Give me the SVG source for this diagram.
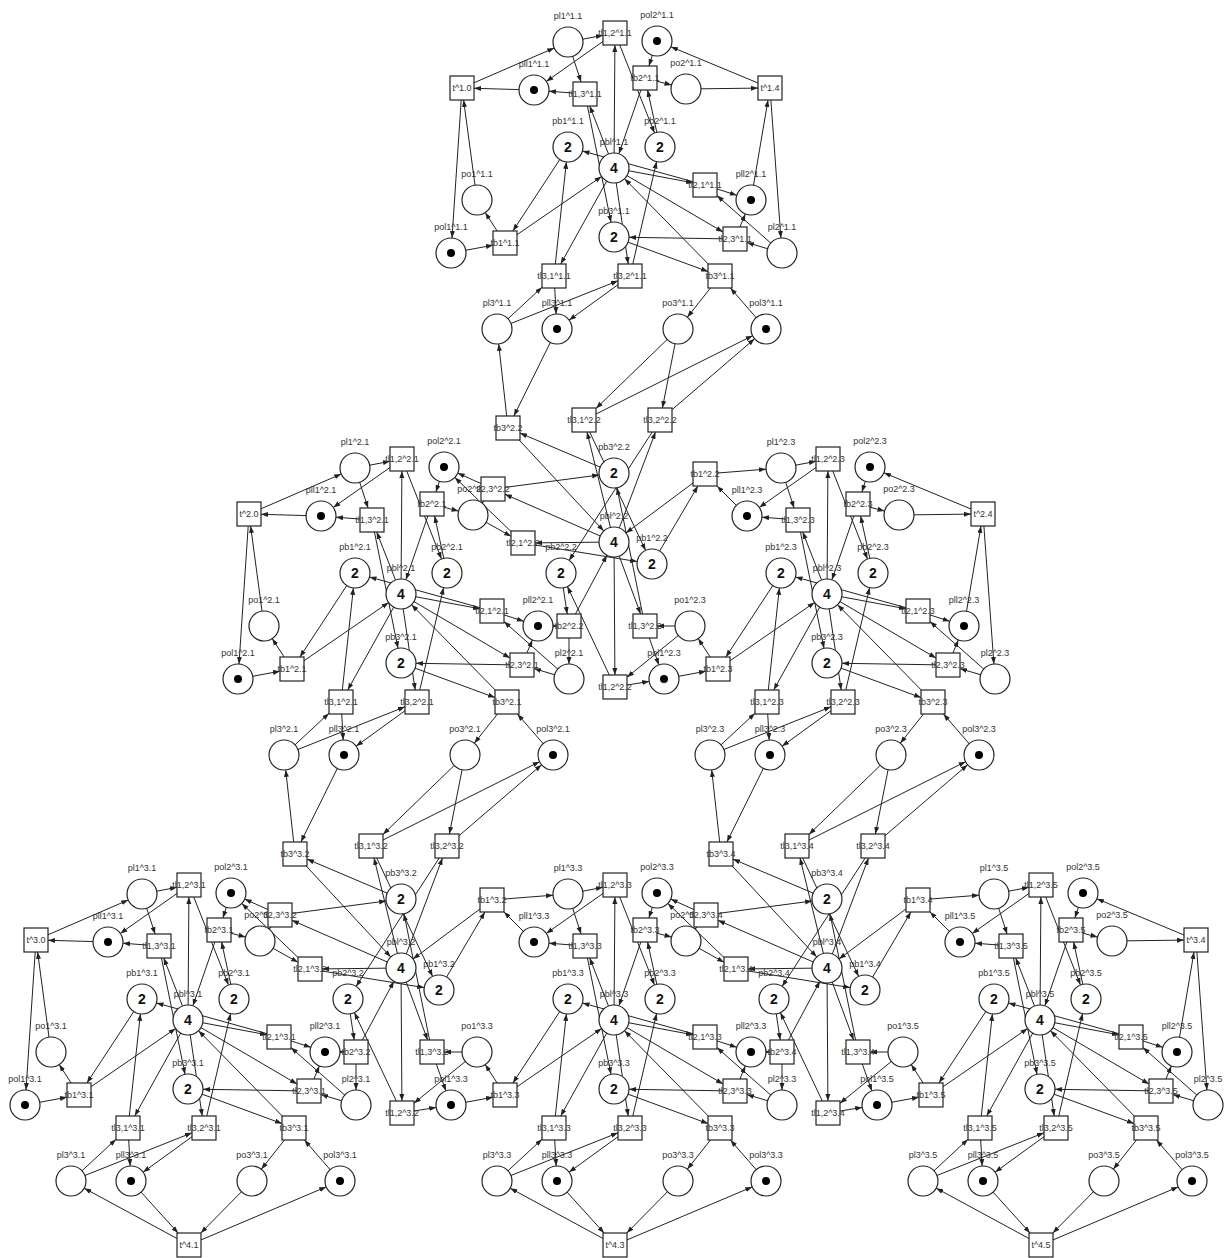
<svg xmlns="http://www.w3.org/2000/svg" width="1225" height="1258" viewBox="0 0 1225 1258">
<style>
.P circle{fill:#fff;stroke:#222;stroke-width:1.2}
.P circle.k{fill:#000;stroke:none}
.T rect{fill:#fff;stroke:#222;stroke-width:1.2}
text{font-family:"Liberation Sans",Arial,sans-serif;font-size:9px;fill:#333;text-anchor:middle}
text.n{font-size:14px;font-weight:bold;fill:#111}
</style>
<defs>
<marker id="a" markerUnits="userSpaceOnUse" markerWidth="8" markerHeight="6" refX="7" refY="3" orient="auto"><path d="M0,0.5L7,3L0,5.5z" fill="#222"/></marker>
<g id="cellE" fill="none" stroke="#222" stroke-width="1" marker-end="url(#a)">
<path d="M568,42L603,35.3"/>
<path d="M615,33L546.3,81.4"/>
<path d="M614,168L614.9,45"/>
<path d="M615,33L654.5,133"/>
<path d="M568,42L581.1,82"/>
<path d="M585,94L549,91.2"/>
<path d="M614,168L589.7,106"/>
<path d="M585,94L611,222.3"/>
<path d="M782,253L717,195.6"/>
<path d="M705,185L736.7,195.3"/>
<path d="M614,168L693,182.8"/>
<path d="M705,185L582.5,151"/>
<path d="M782,253L747,242.6"/>
<path d="M735,239L745.3,213.9"/>
<path d="M614,168L723,232"/>
<path d="M735,239L629,237.3"/>
<path d="M497,329L542,287.2"/>
<path d="M554,276L556.2,314"/>
<path d="M614,168L560.7,264"/>
<path d="M554,276L566.4,161.9"/>
<path d="M497,329L618,280.8"/>
<path d="M630,276L569.1,320.2"/>
<path d="M614,168L628.2,264"/>
<path d="M630,276L656.6,161.6"/>
<path d="M568,147L512.9,231"/>
<path d="M505,243L485.2,212.6"/>
<path d="M451,253L493,245.2"/>
<path d="M505,243L601.6,176.5"/>
<path d="M660,147L647.6,90"/>
<path d="M645,78L671.5,85.1"/>
<path d="M657,41L648.9,66"/>
<path d="M645,78L618.9,153.8"/>
<path d="M614,237L708,271.6"/>
<path d="M720,276L687.3,317.2"/>
<path d="M766,329L730.4,288"/>
<path d="M720,276L624.5,178.7"/>
</g>
<g id="envL" fill="none" stroke="#222" stroke-width="1" marker-end="url(#a)">
<path d="M462,88L554.2,48"/>
<path d="M534,90L474,88.3"/>
<path d="M477,200L463.6,100"/>
<path d="M462,88L452,238"/>
</g>
<g id="envR" fill="none" stroke="#222" stroke-width="1" marker-end="url(#a)">
<path d="M686,89L758,88.1"/>
<path d="M770,88L670.9,46.8"/>
<path d="M751,200L768,100"/>
<path d="M770,88L780.9,238"/>
</g>
<g id="envB" fill="none" stroke="#222" stroke-width="1" marker-end="url(#a)">
<path d="M615,393L510.2,336.2"/>
<path d="M557,329L604.1,381"/>
<path d="M678,329L626.8,381"/>
<path d="M615,393L752.2,334.9"/>
</g>
<g id="linkE" fill="none" stroke="#222" stroke-width="1" marker-end="url(#a)">
<path d="M614,473L520,433.1"/>
<path d="M508,428L498.7,343.9"/>
<path d="M557,329L513.9,416"/>
<path d="M508,428L603.8,531"/>
<path d="M678,329L596,408.4"/>
<path d="M584,420L752.6,335.7"/>
<path d="M614,542L587,432"/>
<path d="M584,420L645.6,550.4"/>
<path d="M678,329L662.4,408"/>
<path d="M660,420L754.6,338.8"/>
<path d="M614,542L655.5,432"/>
<path d="M660,420L569.1,560.4"/>
<path d="M652,564L697.9,486"/>
<path d="M705,474L766,469.2"/>
<path d="M747,516L717,486"/>
<path d="M705,474L626,533"/>
<path d="M690,626L627,677.2"/>
<path d="M615,687L649.2,681.4"/>
<path d="M614,542L614.9,675"/>
<path d="M615,687L567.4,586.6"/>
<path d="M690,626L657,626"/>
<path d="M645,626L658.9,664.9"/>
<path d="M614,542L640.6,614"/>
<path d="M645,626L617,487.7"/>
<path d="M561,573L567.2,614"/>
<path d="M569,626L569,664"/>
<path d="M538,626L557,626"/>
<path d="M569,626L606.9,555.2"/>
<path d="M473,515L511,536.3"/>
<path d="M523,543L454.8,477.4"/>
<path d="M614,542L535,542.9"/>
<path d="M523,543L637.2,561.6"/>
<path d="M473,515L483.8,501"/>
<path d="M493,489L457.7,473.1"/>
<path d="M614,542L505,494.3"/>
<path d="M493,489L599.1,475"/>
</g>
</defs>
<rect width="1225" height="1258" fill="#fff"/>
<g id="connectors">
<use href="#cellE" x="0" y="0"/>
<use href="#cellE" x="-213" y="426"/>
<use href="#cellE" x="213" y="426"/>
<use href="#cellE" x="-426" y="852"/>
<use href="#cellE" x="0" y="852"/>
<use href="#cellE" x="426" y="852"/>
<use href="#linkE" x="0" y="0"/>
<use href="#linkE" x="-213" y="426"/>
<use href="#linkE" x="213" y="426"/>
<use href="#envL" x="0" y="0"/>
<use href="#envL" x="-213" y="426"/>
<use href="#envL" x="-426" y="852"/>
<use href="#envR" x="0" y="0"/>
<use href="#envR" x="213" y="426"/>
<use href="#envR" x="426" y="852"/>
<use href="#envB" x="-426" y="852"/>
<use href="#envB" x="0" y="852"/>
<use href="#envB" x="426" y="852"/>
</g>
<g id="nodes">
<g id="cell_1_1">
<g id="pl1_11" class="P" transform="translate(568,42)"><circle r="15"/><text y="-23">pl1^1.1</text></g>
<g id="pol2_11" class="P" transform="translate(657,41)"><circle r="15"/><circle class="k" r="4"/><text y="-23">pol2^1.1</text></g>
<g id="pll1_11" class="P" transform="translate(534,90)"><circle r="15"/><circle class="k" r="4"/><text y="-23">pll1^1.1</text></g>
<g id="po2_11" class="P" transform="translate(686,89)"><circle r="15"/><text y="-23">po2^1.1</text></g>
<g id="pb1_11" class="P" transform="translate(568,147)"><circle r="15"/><text class="n" y="5">2</text><text y="-23">pb1^1.1</text></g>
<g id="pbl_11" class="P" transform="translate(614,168)"><circle r="15"/><text class="n" y="5">4</text><text y="-23">pbl^1.1</text></g>
<g id="pb2_11" class="P" transform="translate(660,147)"><circle r="15"/><text class="n" y="5">2</text><text y="-23">pb2^1.1</text></g>
<g id="po1_11" class="P" transform="translate(477,200)"><circle r="15"/><text y="-23">po1^1.1</text></g>
<g id="pll2_11" class="P" transform="translate(751,200)"><circle r="15"/><circle class="k" r="4"/><text y="-23">pll2^1.1</text></g>
<g id="pol1_11" class="P" transform="translate(451,253)"><circle r="15"/><circle class="k" r="4"/><text y="-23">pol1^1.1</text></g>
<g id="pb3_11" class="P" transform="translate(614,237)"><circle r="15"/><text class="n" y="5">2</text><text y="-23">pb3^1.1</text></g>
<g id="pl2_11" class="P" transform="translate(782,253)"><circle r="15"/><text y="-23">pl2^1.1</text></g>
<g id="pl3_11" class="P" transform="translate(497,329)"><circle r="15"/><text y="-23">pl3^1.1</text></g>
<g id="pll3_11" class="P" transform="translate(557,329)"><circle r="15"/><circle class="k" r="4"/><text y="-23">pll3^1.1</text></g>
<g id="po3_11" class="P" transform="translate(678,329)"><circle r="15"/><text y="-23">po3^1.1</text></g>
<g id="pol3_11" class="P" transform="translate(766,329)"><circle r="15"/><circle class="k" r="4"/><text y="-23">pol3^1.1</text></g>
<g id="tl12_11" class="T" transform="translate(615,33)"><rect x="-12" y="-12" width="24" height="24"/><text y="3">tl1,2^1.1</text></g>
<g id="tl13_11" class="T" transform="translate(585,94)"><rect x="-12" y="-12" width="24" height="24"/><text y="3">tl1,3^1.1</text></g>
<g id="tb2_11" class="T" transform="translate(645,78)"><rect x="-12" y="-12" width="24" height="24"/><text y="3">tb2^1.1</text></g>
<g id="tl21_11" class="T" transform="translate(705,185)"><rect x="-12" y="-12" width="24" height="24"/><text y="3">tl2,1^1.1</text></g>
<g id="tb1_11" class="T" transform="translate(505,243)"><rect x="-12" y="-12" width="24" height="24"/><text y="3">tb1^1.1</text></g>
<g id="tl23_11" class="T" transform="translate(735,239)"><rect x="-12" y="-12" width="24" height="24"/><text y="3">tl2,3^1.1</text></g>
<g id="tl31_11" class="T" transform="translate(554,276)"><rect x="-12" y="-12" width="24" height="24"/><text y="3">tl3,1^1.1</text></g>
<g id="tl32_11" class="T" transform="translate(630,276)"><rect x="-12" y="-12" width="24" height="24"/><text y="3">tl3,2^1.1</text></g>
<g id="tb3_11" class="T" transform="translate(720,276)"><rect x="-12" y="-12" width="24" height="24"/><text y="3">tb3^1.1</text></g>
</g>
<g id="cell_2_1" transform="translate(-213,426)">
<g id="pl1_21" class="P" transform="translate(568,42)"><circle r="15"/><text y="-23">pl1^2.1</text></g>
<g id="pol2_21" class="P" transform="translate(657,41)"><circle r="15"/><circle class="k" r="4"/><text y="-23">pol2^2.1</text></g>
<g id="pll1_21" class="P" transform="translate(534,90)"><circle r="15"/><circle class="k" r="4"/><text y="-23">pll1^2.1</text></g>
<g id="po2_21" class="P" transform="translate(686,89)"><circle r="15"/><text y="-23">po2^2.1</text></g>
<g id="pb1_21" class="P" transform="translate(568,147)"><circle r="15"/><text class="n" y="5">2</text><text y="-23">pb1^2.1</text></g>
<g id="pbl_21" class="P" transform="translate(614,168)"><circle r="15"/><text class="n" y="5">4</text><text y="-23">pbl^2.1</text></g>
<g id="pb2_21" class="P" transform="translate(660,147)"><circle r="15"/><text class="n" y="5">2</text><text y="-23">pb2^2.1</text></g>
<g id="po1_21" class="P" transform="translate(477,200)"><circle r="15"/><text y="-23">po1^2.1</text></g>
<g id="pll2_21" class="P" transform="translate(751,200)"><circle r="15"/><circle class="k" r="4"/><text y="-23">pll2^2.1</text></g>
<g id="pol1_21" class="P" transform="translate(451,253)"><circle r="15"/><circle class="k" r="4"/><text y="-23">pol1^2.1</text></g>
<g id="pb3_21" class="P" transform="translate(614,237)"><circle r="15"/><text class="n" y="5">2</text><text y="-23">pb3^2.1</text></g>
<g id="pl2_21" class="P" transform="translate(782,253)"><circle r="15"/><text y="-23">pl2^2.1</text></g>
<g id="pl3_21" class="P" transform="translate(497,329)"><circle r="15"/><text y="-23">pl3^2.1</text></g>
<g id="pll3_21" class="P" transform="translate(557,329)"><circle r="15"/><circle class="k" r="4"/><text y="-23">pll3^2.1</text></g>
<g id="po3_21" class="P" transform="translate(678,329)"><circle r="15"/><text y="-23">po3^2.1</text></g>
<g id="pol3_21" class="P" transform="translate(766,329)"><circle r="15"/><circle class="k" r="4"/><text y="-23">pol3^2.1</text></g>
<g id="tl12_21" class="T" transform="translate(615,33)"><rect x="-12" y="-12" width="24" height="24"/><text y="3">tl1,2^2.1</text></g>
<g id="tl13_21" class="T" transform="translate(585,94)"><rect x="-12" y="-12" width="24" height="24"/><text y="3">tl1,3^2.1</text></g>
<g id="tb2_21" class="T" transform="translate(645,78)"><rect x="-12" y="-12" width="24" height="24"/><text y="3">tb2^2.1</text></g>
<g id="tl21_21" class="T" transform="translate(705,185)"><rect x="-12" y="-12" width="24" height="24"/><text y="3">tl2,1^2.1</text></g>
<g id="tb1_21" class="T" transform="translate(505,243)"><rect x="-12" y="-12" width="24" height="24"/><text y="3">tb1^2.1</text></g>
<g id="tl23_21" class="T" transform="translate(735,239)"><rect x="-12" y="-12" width="24" height="24"/><text y="3">tl2,3^2.1</text></g>
<g id="tl31_21" class="T" transform="translate(554,276)"><rect x="-12" y="-12" width="24" height="24"/><text y="3">tl3,1^2.1</text></g>
<g id="tl32_21" class="T" transform="translate(630,276)"><rect x="-12" y="-12" width="24" height="24"/><text y="3">tl3,2^2.1</text></g>
<g id="tb3_21" class="T" transform="translate(720,276)"><rect x="-12" y="-12" width="24" height="24"/><text y="3">tb3^2.1</text></g>
</g>
<g id="cell_2_3" transform="translate(213,426)">
<g id="pl1_23" class="P" transform="translate(568,42)"><circle r="15"/><text y="-23">pl1^2.3</text></g>
<g id="pol2_23" class="P" transform="translate(657,41)"><circle r="15"/><circle class="k" r="4"/><text y="-23">pol2^2.3</text></g>
<g id="pll1_23" class="P" transform="translate(534,90)"><circle r="15"/><circle class="k" r="4"/><text y="-23">pll1^2.3</text></g>
<g id="po2_23" class="P" transform="translate(686,89)"><circle r="15"/><text y="-23">po2^2.3</text></g>
<g id="pb1_23" class="P" transform="translate(568,147)"><circle r="15"/><text class="n" y="5">2</text><text y="-23">pb1^2.3</text></g>
<g id="pbl_23" class="P" transform="translate(614,168)"><circle r="15"/><text class="n" y="5">4</text><text y="-23">pbl^2.3</text></g>
<g id="pb2_23" class="P" transform="translate(660,147)"><circle r="15"/><text class="n" y="5">2</text><text y="-23">pb2^2.3</text></g>
<g id="po1_23" class="P" transform="translate(477,200)"><circle r="15"/><text y="-23">po1^2.3</text></g>
<g id="pll2_23" class="P" transform="translate(751,200)"><circle r="15"/><circle class="k" r="4"/><text y="-23">pll2^2.3</text></g>
<g id="pol1_23" class="P" transform="translate(451,253)"><circle r="15"/><circle class="k" r="4"/><text y="-23">pol1^2.3</text></g>
<g id="pb3_23" class="P" transform="translate(614,237)"><circle r="15"/><text class="n" y="5">2</text><text y="-23">pb3^2.3</text></g>
<g id="pl2_23" class="P" transform="translate(782,253)"><circle r="15"/><text y="-23">pl2^2.3</text></g>
<g id="pl3_23" class="P" transform="translate(497,329)"><circle r="15"/><text y="-23">pl3^2.3</text></g>
<g id="pll3_23" class="P" transform="translate(557,329)"><circle r="15"/><circle class="k" r="4"/><text y="-23">pll3^2.3</text></g>
<g id="po3_23" class="P" transform="translate(678,329)"><circle r="15"/><text y="-23">po3^2.3</text></g>
<g id="pol3_23" class="P" transform="translate(766,329)"><circle r="15"/><circle class="k" r="4"/><text y="-23">pol3^2.3</text></g>
<g id="tl12_23" class="T" transform="translate(615,33)"><rect x="-12" y="-12" width="24" height="24"/><text y="3">tl1,2^2.3</text></g>
<g id="tl13_23" class="T" transform="translate(585,94)"><rect x="-12" y="-12" width="24" height="24"/><text y="3">tl1,3^2.3</text></g>
<g id="tb2_23" class="T" transform="translate(645,78)"><rect x="-12" y="-12" width="24" height="24"/><text y="3">tb2^2.3</text></g>
<g id="tl21_23" class="T" transform="translate(705,185)"><rect x="-12" y="-12" width="24" height="24"/><text y="3">tl2,1^2.3</text></g>
<g id="tb1_23" class="T" transform="translate(505,243)"><rect x="-12" y="-12" width="24" height="24"/><text y="3">tb1^2.3</text></g>
<g id="tl23_23" class="T" transform="translate(735,239)"><rect x="-12" y="-12" width="24" height="24"/><text y="3">tl2,3^2.3</text></g>
<g id="tl31_23" class="T" transform="translate(554,276)"><rect x="-12" y="-12" width="24" height="24"/><text y="3">tl3,1^2.3</text></g>
<g id="tl32_23" class="T" transform="translate(630,276)"><rect x="-12" y="-12" width="24" height="24"/><text y="3">tl3,2^2.3</text></g>
<g id="tb3_23" class="T" transform="translate(720,276)"><rect x="-12" y="-12" width="24" height="24"/><text y="3">tb3^2.3</text></g>
</g>
<g id="cell_3_1" transform="translate(-426,852)">
<g id="pl1_31" class="P" transform="translate(568,42)"><circle r="15"/><text y="-23">pl1^3.1</text></g>
<g id="pol2_31" class="P" transform="translate(657,41)"><circle r="15"/><circle class="k" r="4"/><text y="-23">pol2^3.1</text></g>
<g id="pll1_31" class="P" transform="translate(534,90)"><circle r="15"/><circle class="k" r="4"/><text y="-23">pll1^3.1</text></g>
<g id="po2_31" class="P" transform="translate(686,89)"><circle r="15"/><text y="-23">po2^3.1</text></g>
<g id="pb1_31" class="P" transform="translate(568,147)"><circle r="15"/><text class="n" y="5">2</text><text y="-23">pb1^3.1</text></g>
<g id="pbl_31" class="P" transform="translate(614,168)"><circle r="15"/><text class="n" y="5">4</text><text y="-23">pbl^3.1</text></g>
<g id="pb2_31" class="P" transform="translate(660,147)"><circle r="15"/><text class="n" y="5">2</text><text y="-23">pb2^3.1</text></g>
<g id="po1_31" class="P" transform="translate(477,200)"><circle r="15"/><text y="-23">po1^3.1</text></g>
<g id="pll2_31" class="P" transform="translate(751,200)"><circle r="15"/><circle class="k" r="4"/><text y="-23">pll2^3.1</text></g>
<g id="pol1_31" class="P" transform="translate(451,253)"><circle r="15"/><circle class="k" r="4"/><text y="-23">pol1^3.1</text></g>
<g id="pb3_31" class="P" transform="translate(614,237)"><circle r="15"/><text class="n" y="5">2</text><text y="-23">pb3^3.1</text></g>
<g id="pl2_31" class="P" transform="translate(782,253)"><circle r="15"/><text y="-23">pl2^3.1</text></g>
<g id="pl3_31" class="P" transform="translate(497,329)"><circle r="15"/><text y="-23">pl3^3.1</text></g>
<g id="pll3_31" class="P" transform="translate(557,329)"><circle r="15"/><circle class="k" r="4"/><text y="-23">pll3^3.1</text></g>
<g id="po3_31" class="P" transform="translate(678,329)"><circle r="15"/><text y="-23">po3^3.1</text></g>
<g id="pol3_31" class="P" transform="translate(766,329)"><circle r="15"/><circle class="k" r="4"/><text y="-23">pol3^3.1</text></g>
<g id="tl12_31" class="T" transform="translate(615,33)"><rect x="-12" y="-12" width="24" height="24"/><text y="3">tl1,2^3.1</text></g>
<g id="tl13_31" class="T" transform="translate(585,94)"><rect x="-12" y="-12" width="24" height="24"/><text y="3">tl1,3^3.1</text></g>
<g id="tb2_31" class="T" transform="translate(645,78)"><rect x="-12" y="-12" width="24" height="24"/><text y="3">tb2^3.1</text></g>
<g id="tl21_31" class="T" transform="translate(705,185)"><rect x="-12" y="-12" width="24" height="24"/><text y="3">tl2,1^3.1</text></g>
<g id="tb1_31" class="T" transform="translate(505,243)"><rect x="-12" y="-12" width="24" height="24"/><text y="3">tb1^3.1</text></g>
<g id="tl23_31" class="T" transform="translate(735,239)"><rect x="-12" y="-12" width="24" height="24"/><text y="3">tl2,3^3.1</text></g>
<g id="tl31_31" class="T" transform="translate(554,276)"><rect x="-12" y="-12" width="24" height="24"/><text y="3">tl3,1^3.1</text></g>
<g id="tl32_31" class="T" transform="translate(630,276)"><rect x="-12" y="-12" width="24" height="24"/><text y="3">tl3,2^3.1</text></g>
<g id="tb3_31" class="T" transform="translate(720,276)"><rect x="-12" y="-12" width="24" height="24"/><text y="3">tb3^3.1</text></g>
</g>
<g id="cell_3_3" transform="translate(0,852)">
<g id="pl1_33" class="P" transform="translate(568,42)"><circle r="15"/><text y="-23">pl1^3.3</text></g>
<g id="pol2_33" class="P" transform="translate(657,41)"><circle r="15"/><circle class="k" r="4"/><text y="-23">pol2^3.3</text></g>
<g id="pll1_33" class="P" transform="translate(534,90)"><circle r="15"/><circle class="k" r="4"/><text y="-23">pll1^3.3</text></g>
<g id="po2_33" class="P" transform="translate(686,89)"><circle r="15"/><text y="-23">po2^3.3</text></g>
<g id="pb1_33" class="P" transform="translate(568,147)"><circle r="15"/><text class="n" y="5">2</text><text y="-23">pb1^3.3</text></g>
<g id="pbl_33" class="P" transform="translate(614,168)"><circle r="15"/><text class="n" y="5">4</text><text y="-23">pbl^3.3</text></g>
<g id="pb2_33" class="P" transform="translate(660,147)"><circle r="15"/><text class="n" y="5">2</text><text y="-23">pb2^3.3</text></g>
<g id="po1_33" class="P" transform="translate(477,200)"><circle r="15"/><text y="-23">po1^3.3</text></g>
<g id="pll2_33" class="P" transform="translate(751,200)"><circle r="15"/><circle class="k" r="4"/><text y="-23">pll2^3.3</text></g>
<g id="pol1_33" class="P" transform="translate(451,253)"><circle r="15"/><circle class="k" r="4"/><text y="-23">pol1^3.3</text></g>
<g id="pb3_33" class="P" transform="translate(614,237)"><circle r="15"/><text class="n" y="5">2</text><text y="-23">pb3^3.3</text></g>
<g id="pl2_33" class="P" transform="translate(782,253)"><circle r="15"/><text y="-23">pl2^3.3</text></g>
<g id="pl3_33" class="P" transform="translate(497,329)"><circle r="15"/><text y="-23">pl3^3.3</text></g>
<g id="pll3_33" class="P" transform="translate(557,329)"><circle r="15"/><circle class="k" r="4"/><text y="-23">pll3^3.3</text></g>
<g id="po3_33" class="P" transform="translate(678,329)"><circle r="15"/><text y="-23">po3^3.3</text></g>
<g id="pol3_33" class="P" transform="translate(766,329)"><circle r="15"/><circle class="k" r="4"/><text y="-23">pol3^3.3</text></g>
<g id="tl12_33" class="T" transform="translate(615,33)"><rect x="-12" y="-12" width="24" height="24"/><text y="3">tl1,2^3.3</text></g>
<g id="tl13_33" class="T" transform="translate(585,94)"><rect x="-12" y="-12" width="24" height="24"/><text y="3">tl1,3^3.3</text></g>
<g id="tb2_33" class="T" transform="translate(645,78)"><rect x="-12" y="-12" width="24" height="24"/><text y="3">tb2^3.3</text></g>
<g id="tl21_33" class="T" transform="translate(705,185)"><rect x="-12" y="-12" width="24" height="24"/><text y="3">tl2,1^3.3</text></g>
<g id="tb1_33" class="T" transform="translate(505,243)"><rect x="-12" y="-12" width="24" height="24"/><text y="3">tb1^3.3</text></g>
<g id="tl23_33" class="T" transform="translate(735,239)"><rect x="-12" y="-12" width="24" height="24"/><text y="3">tl2,3^3.3</text></g>
<g id="tl31_33" class="T" transform="translate(554,276)"><rect x="-12" y="-12" width="24" height="24"/><text y="3">tl3,1^3.3</text></g>
<g id="tl32_33" class="T" transform="translate(630,276)"><rect x="-12" y="-12" width="24" height="24"/><text y="3">tl3,2^3.3</text></g>
<g id="tb3_33" class="T" transform="translate(720,276)"><rect x="-12" y="-12" width="24" height="24"/><text y="3">tb3^3.3</text></g>
</g>
<g id="cell_3_5" transform="translate(426,852)">
<g id="pl1_35" class="P" transform="translate(568,42)"><circle r="15"/><text y="-23">pl1^3.5</text></g>
<g id="pol2_35" class="P" transform="translate(657,41)"><circle r="15"/><circle class="k" r="4"/><text y="-23">pol2^3.5</text></g>
<g id="pll1_35" class="P" transform="translate(534,90)"><circle r="15"/><circle class="k" r="4"/><text y="-23">pll1^3.5</text></g>
<g id="po2_35" class="P" transform="translate(686,89)"><circle r="15"/><text y="-23">po2^3.5</text></g>
<g id="pb1_35" class="P" transform="translate(568,147)"><circle r="15"/><text class="n" y="5">2</text><text y="-23">pb1^3.5</text></g>
<g id="pbl_35" class="P" transform="translate(614,168)"><circle r="15"/><text class="n" y="5">4</text><text y="-23">pbl^3.5</text></g>
<g id="pb2_35" class="P" transform="translate(660,147)"><circle r="15"/><text class="n" y="5">2</text><text y="-23">pb2^3.5</text></g>
<g id="po1_35" class="P" transform="translate(477,200)"><circle r="15"/><text y="-23">po1^3.5</text></g>
<g id="pll2_35" class="P" transform="translate(751,200)"><circle r="15"/><circle class="k" r="4"/><text y="-23">pll2^3.5</text></g>
<g id="pol1_35" class="P" transform="translate(451,253)"><circle r="15"/><circle class="k" r="4"/><text y="-23">pol1^3.5</text></g>
<g id="pb3_35" class="P" transform="translate(614,237)"><circle r="15"/><text class="n" y="5">2</text><text y="-23">pb3^3.5</text></g>
<g id="pl2_35" class="P" transform="translate(782,253)"><circle r="15"/><text y="-23">pl2^3.5</text></g>
<g id="pl3_35" class="P" transform="translate(497,329)"><circle r="15"/><text y="-23">pl3^3.5</text></g>
<g id="pll3_35" class="P" transform="translate(557,329)"><circle r="15"/><circle class="k" r="4"/><text y="-23">pll3^3.5</text></g>
<g id="po3_35" class="P" transform="translate(678,329)"><circle r="15"/><text y="-23">po3^3.5</text></g>
<g id="pol3_35" class="P" transform="translate(766,329)"><circle r="15"/><circle class="k" r="4"/><text y="-23">pol3^3.5</text></g>
<g id="tl12_35" class="T" transform="translate(615,33)"><rect x="-12" y="-12" width="24" height="24"/><text y="3">tl1,2^3.5</text></g>
<g id="tl13_35" class="T" transform="translate(585,94)"><rect x="-12" y="-12" width="24" height="24"/><text y="3">tl1,3^3.5</text></g>
<g id="tb2_35" class="T" transform="translate(645,78)"><rect x="-12" y="-12" width="24" height="24"/><text y="3">tb2^3.5</text></g>
<g id="tl21_35" class="T" transform="translate(705,185)"><rect x="-12" y="-12" width="24" height="24"/><text y="3">tl2,1^3.5</text></g>
<g id="tb1_35" class="T" transform="translate(505,243)"><rect x="-12" y="-12" width="24" height="24"/><text y="3">tb1^3.5</text></g>
<g id="tl23_35" class="T" transform="translate(735,239)"><rect x="-12" y="-12" width="24" height="24"/><text y="3">tl2,3^3.5</text></g>
<g id="tl31_35" class="T" transform="translate(554,276)"><rect x="-12" y="-12" width="24" height="24"/><text y="3">tl3,1^3.5</text></g>
<g id="tl32_35" class="T" transform="translate(630,276)"><rect x="-12" y="-12" width="24" height="24"/><text y="3">tl3,2^3.5</text></g>
<g id="tb3_35" class="T" transform="translate(720,276)"><rect x="-12" y="-12" width="24" height="24"/><text y="3">tb3^3.5</text></g>
</g>
<g id="link_2_2">
<g id="pb3_22" class="P" transform="translate(614,473)"><circle r="15"/><text class="n" y="5">2</text><text y="-23">pb3^2.2</text></g>
<g id="pbl_22" class="P" transform="translate(614,542)"><circle r="15"/><text class="n" y="5">4</text><text y="-23">pbl^2.2</text></g>
<g id="pb1_22" class="P" transform="translate(652,564)"><circle r="15"/><text class="n" y="5">2</text><text y="-23">pb1^2.2</text></g>
<g id="pb2_22" class="P" transform="translate(561,573)"><circle r="15"/><text class="n" y="5">2</text><text y="-23">pb2^2.2</text></g>
<g id="tb3_22" class="T" transform="translate(508,428)"><rect x="-12" y="-12" width="24" height="24"/><text y="3">tb3^2.2</text></g>
<g id="tl31_22" class="T" transform="translate(584,420)"><rect x="-12" y="-12" width="24" height="24"/><text y="3">tl3,1^2.2</text></g>
<g id="tl32_22" class="T" transform="translate(660,420)"><rect x="-12" y="-12" width="24" height="24"/><text y="3">tl3,2^2.2</text></g>
<g id="tb1_22" class="T" transform="translate(705,474)"><rect x="-12" y="-12" width="24" height="24"/><text y="3">tb1^2.2</text></g>
<g id="tl23_22" class="T" transform="translate(493,489)"><rect x="-12" y="-12" width="24" height="24"/><text y="3">tl2,3^2.2</text></g>
<g id="tl21_22" class="T" transform="translate(523,543)"><rect x="-12" y="-12" width="24" height="24"/><text y="3">tl2,1^2.2</text></g>
<g id="tb2_22" class="T" transform="translate(569,626)"><rect x="-12" y="-12" width="24" height="24"/><text y="3">tb2^2.2</text></g>
<g id="tl13_22" class="T" transform="translate(645,626)"><rect x="-12" y="-12" width="24" height="24"/><text y="3">tl1,3^2.2</text></g>
<g id="tl12_22" class="T" transform="translate(615,687)"><rect x="-12" y="-12" width="24" height="24"/><text y="3">tl1,2^2.2</text></g>
</g>
<g id="link_3_2" transform="translate(-213,426)">
<g id="pb3_32" class="P" transform="translate(614,473)"><circle r="15"/><text class="n" y="5">2</text><text y="-23">pb3^3.2</text></g>
<g id="pbl_32" class="P" transform="translate(614,542)"><circle r="15"/><text class="n" y="5">4</text><text y="-23">pbl^3.2</text></g>
<g id="pb1_32" class="P" transform="translate(652,564)"><circle r="15"/><text class="n" y="5">2</text><text y="-23">pb1^3.2</text></g>
<g id="pb2_32" class="P" transform="translate(561,573)"><circle r="15"/><text class="n" y="5">2</text><text y="-23">pb2^3.2</text></g>
<g id="tb3_32" class="T" transform="translate(508,428)"><rect x="-12" y="-12" width="24" height="24"/><text y="3">tb3^3.2</text></g>
<g id="tl31_32" class="T" transform="translate(584,420)"><rect x="-12" y="-12" width="24" height="24"/><text y="3">tl3,1^3.2</text></g>
<g id="tl32_32" class="T" transform="translate(660,420)"><rect x="-12" y="-12" width="24" height="24"/><text y="3">tl3,2^3.2</text></g>
<g id="tb1_32" class="T" transform="translate(705,474)"><rect x="-12" y="-12" width="24" height="24"/><text y="3">tb1^3.2</text></g>
<g id="tl23_32" class="T" transform="translate(493,489)"><rect x="-12" y="-12" width="24" height="24"/><text y="3">tl2,3^3.2</text></g>
<g id="tl21_32" class="T" transform="translate(523,543)"><rect x="-12" y="-12" width="24" height="24"/><text y="3">tl2,1^3.2</text></g>
<g id="tb2_32" class="T" transform="translate(569,626)"><rect x="-12" y="-12" width="24" height="24"/><text y="3">tb2^3.2</text></g>
<g id="tl13_32" class="T" transform="translate(645,626)"><rect x="-12" y="-12" width="24" height="24"/><text y="3">tl1,3^3.2</text></g>
<g id="tl12_32" class="T" transform="translate(615,687)"><rect x="-12" y="-12" width="24" height="24"/><text y="3">tl1,2^3.2</text></g>
</g>
<g id="link_3_4" transform="translate(213,426)">
<g id="pb3_34" class="P" transform="translate(614,473)"><circle r="15"/><text class="n" y="5">2</text><text y="-23">pb3^3.4</text></g>
<g id="pbl_34" class="P" transform="translate(614,542)"><circle r="15"/><text class="n" y="5">4</text><text y="-23">pbl^3.4</text></g>
<g id="pb1_34" class="P" transform="translate(652,564)"><circle r="15"/><text class="n" y="5">2</text><text y="-23">pb1^3.4</text></g>
<g id="pb2_34" class="P" transform="translate(561,573)"><circle r="15"/><text class="n" y="5">2</text><text y="-23">pb2^3.4</text></g>
<g id="tb3_34" class="T" transform="translate(508,428)"><rect x="-12" y="-12" width="24" height="24"/><text y="3">tb3^3.4</text></g>
<g id="tl31_34" class="T" transform="translate(584,420)"><rect x="-12" y="-12" width="24" height="24"/><text y="3">tl3,1^3.4</text></g>
<g id="tl32_34" class="T" transform="translate(660,420)"><rect x="-12" y="-12" width="24" height="24"/><text y="3">tl3,2^3.4</text></g>
<g id="tb1_34" class="T" transform="translate(705,474)"><rect x="-12" y="-12" width="24" height="24"/><text y="3">tb1^3.4</text></g>
<g id="tl23_34" class="T" transform="translate(493,489)"><rect x="-12" y="-12" width="24" height="24"/><text y="3">tl2,3^3.4</text></g>
<g id="tl21_34" class="T" transform="translate(523,543)"><rect x="-12" y="-12" width="24" height="24"/><text y="3">tl2,1^3.4</text></g>
<g id="tb2_34" class="T" transform="translate(569,626)"><rect x="-12" y="-12" width="24" height="24"/><text y="3">tb2^3.4</text></g>
<g id="tl13_34" class="T" transform="translate(645,626)"><rect x="-12" y="-12" width="24" height="24"/><text y="3">tl1,3^3.4</text></g>
<g id="tl12_34" class="T" transform="translate(615,687)"><rect x="-12" y="-12" width="24" height="24"/><text y="3">tl1,2^3.4</text></g>
</g>
<g id="env">
<g id="t_1_0" class="T" transform="translate(462,88)"><rect x="-12" y="-12" width="24" height="24"/><text y="3">t^1.0</text></g>
<g id="t_1_4" class="T" transform="translate(770,88)"><rect x="-12" y="-12" width="24" height="24"/><text y="3">t^1.4</text></g>
<g id="t_2_0" class="T" transform="translate(249,514)"><rect x="-12" y="-12" width="24" height="24"/><text y="3">t^2.0</text></g>
<g id="t_2_4" class="T" transform="translate(983,514)"><rect x="-12" y="-12" width="24" height="24"/><text y="3">t^2.4</text></g>
<g id="t_3_0" class="T" transform="translate(36,940)"><rect x="-12" y="-12" width="24" height="24"/><text y="3">t^3.0</text></g>
<g id="t_3_4" class="T" transform="translate(1196,940)"><rect x="-12" y="-12" width="24" height="24"/><text y="3">t^3.4</text></g>
<g id="t_4_1" class="T" transform="translate(189,1245)"><rect x="-12" y="-12" width="24" height="24"/><text y="3">t^4.1</text></g>
<g id="t_4_3" class="T" transform="translate(615,1245)"><rect x="-12" y="-12" width="24" height="24"/><text y="3">t^4.3</text></g>
<g id="t_4_5" class="T" transform="translate(1041,1245)"><rect x="-12" y="-12" width="24" height="24"/><text y="3">t^4.5</text></g>
</g>
</g>
</svg>
